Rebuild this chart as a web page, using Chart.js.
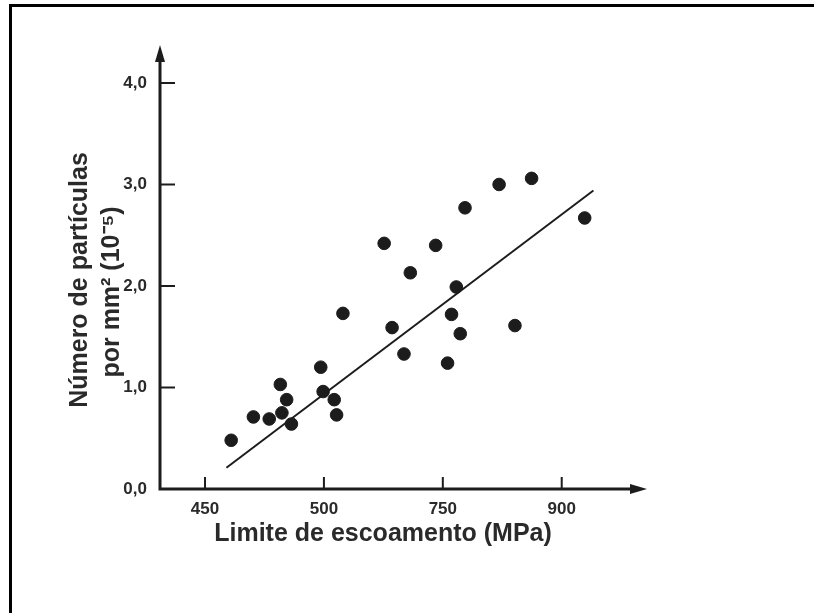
<!DOCTYPE html>
<html>
<head>
<meta charset="utf-8">
<script src="https://cdn.jsdelivr.net/npm/chart.js@4.4.1/dist/chart.umd.min.js"></script>
<style>
  html, body { margin: 0; padding: 0; background: #fff; }
  #wrap { position: relative; width: 814px; height: 613px; overflow: hidden; }
  #frame { position: absolute; left: 9px; top: 4px; right: -10px; bottom: -10px;
           border-top: 3px solid #000; border-left: 3px solid #000; pointer-events: none; }
</style>
</head>
<body>
<div id="wrap">
  <canvas id="chart"></canvas>
  <div id="frame"></div>
</div>
<script>
// yield strength (MPa) vs number of particles per mm2
const yieldStrength = [483, 511, 531, 545, 547, 553, 559, 596, 599, 613, 616, 624, 676,
  686, 701, 709, 741, 756, 761, 767, 772, 778, 821, 841, 862, 929];
const particleCount = [0.48, 0.71, 0.69, 1.03, 0.75, 0.88, 0.64, 1.20, 0.96, 0.88, 0.73, 1.73, 2.42,
  1.59, 1.33, 2.13, 2.40, 1.24, 1.72, 1.99, 1.53, 2.77, 3.00, 1.61, 3.06, 2.67];

// regression line end points
const fitX = [477, 940];
const fitY = [0.21, 2.94];

const xTickValues = [450, 600, 750, 900];
const xTickLabels = ['450', '500', '750', '900'];
const yTickValues = [0, 1, 2, 3, 4];
const yTickLabels = ['0,0', '1,0', '2,0', '3,0', '4,0'];

const xTitle = 'Limite de escoamento (MPa)';
const yTitle = ['Número de partículas', 'por mm² (10⁻⁵)'];

const ink = '#1c1c1c';
const fontFamily = '"Liberation Sans", Arial, sans-serif';

const arrowAxes = {
  id: 'arrowAxes',
  beforeDatasetsDraw(chart) {
    const { ctx, chartArea: a, scales: { x, y } } = chart;
    const x0 = a.left;
    const y0 = y.getPixelForValue(0);
    ctx.save();
    ctx.strokeStyle = ink;
    ctx.fillStyle = ink;

    // axis lines
    ctx.lineWidth = 3;
    ctx.beginPath();
    ctx.moveTo(x0, a.top + 12);
    ctx.lineTo(x0, y0);
    ctx.lineTo(a.right - 12, y0);
    ctx.stroke();

    // arrow heads
    ctx.beginPath();
    ctx.moveTo(x0, a.top);
    ctx.lineTo(x0 - 5, a.top + 17);
    ctx.lineTo(x0 + 5, a.top + 17);
    ctx.closePath();
    ctx.fill();
    ctx.beginPath();
    ctx.moveTo(a.right, y0);
    ctx.lineTo(a.right - 17, y0 - 5);
    ctx.lineTo(a.right - 17, y0 + 5);
    ctx.closePath();
    ctx.fill();

    // tick marks, drawn inside the plot
    ctx.lineWidth = 2;
    ctx.beginPath();
    xTickValues.forEach(v => {
      const px = x.getPixelForValue(v);
      ctx.moveTo(px, y0);
      ctx.lineTo(px, y0 - 12);
    });
    yTickValues.slice(1).forEach(v => {
      const py = y.getPixelForValue(v);
      ctx.moveTo(x0, py);
      ctx.lineTo(x0 + 15, py);
    });
    ctx.stroke();

    // axis titles
    ctx.font = 'bold 25px ' + fontFamily;
    ctx.textAlign = 'center';
    ctx.textBaseline = 'middle';
    ctx.fillStyle = '#2a2a2a';
    ctx.fillText(xTitle, 383, 534);

    ctx.translate(80, 280);
    ctx.rotate(-Math.PI / 2);
    ctx.fillText(yTitle[0], 0, 0);
    ctx.fillText(yTitle[1], -12, 32);
    ctx.restore();
  }
};

new Chart(document.getElementById('chart'), {
  type: 'scatter',
  data: {
    datasets: [{
      label: 'Pontos',
      data: yieldStrength.map((v, i) => ({ x: v, y: particleCount[i] })),
      backgroundColor: ink,
      borderColor: ink,
      pointRadius: 6.3,
      pointHoverRadius: 6.3
    }, {
      label: 'Ajuste',
      data: fitX.map((v, i) => ({ x: v, y: fitY[i] })),
      showLine: true,
      borderColor: ink,
      borderWidth: 2,
      pointRadius: 0
    }]
  },
  options: {
    responsive: true,
    maintainAspectRatio: false,
    animation: false,
    layout: { padding: { left: 0, top: 45, right: 167, bottom: 44 } },
    plugins: {
      legend: { display: false },
      tooltip: { enabled: false }
    },
    scales: {
      x: {
        type: 'linear',
        min: 393.2,
        max: 1007.6,
        grid: { display: false, drawTicks: false },
        border: { display: false },
        afterBuildTicks: scale => { scale.ticks = xTickValues.map(v => ({ value: v })); },
        afterFit: scale => { scale.height = 80; },
        ticks: {
          padding: 10,
          color: '#2a2a2a',
          font: { family: fontFamily, weight: 'bold', size: 17 },
          callback: v => xTickLabels[xTickValues.indexOf(v)]
        }
      },
      y: {
        type: 'linear',
        min: 0,
        max: 4.374,
        grid: { display: false, drawTicks: false },
        border: { display: false },
        afterBuildTicks: scale => { scale.ticks = yTickValues.map(v => ({ value: v })); },
        afterFit: scale => { scale.width = 160; },
        ticks: {
          padding: 13,
          color: '#2a2a2a',
          font: { family: fontFamily, weight: 'bold', size: 17 },
          callback: v => yTickLabels[yTickValues.indexOf(v)]
        }
      }
    }
  },
  plugins: [arrowAxes]
});
</script>
</body>
</html>
